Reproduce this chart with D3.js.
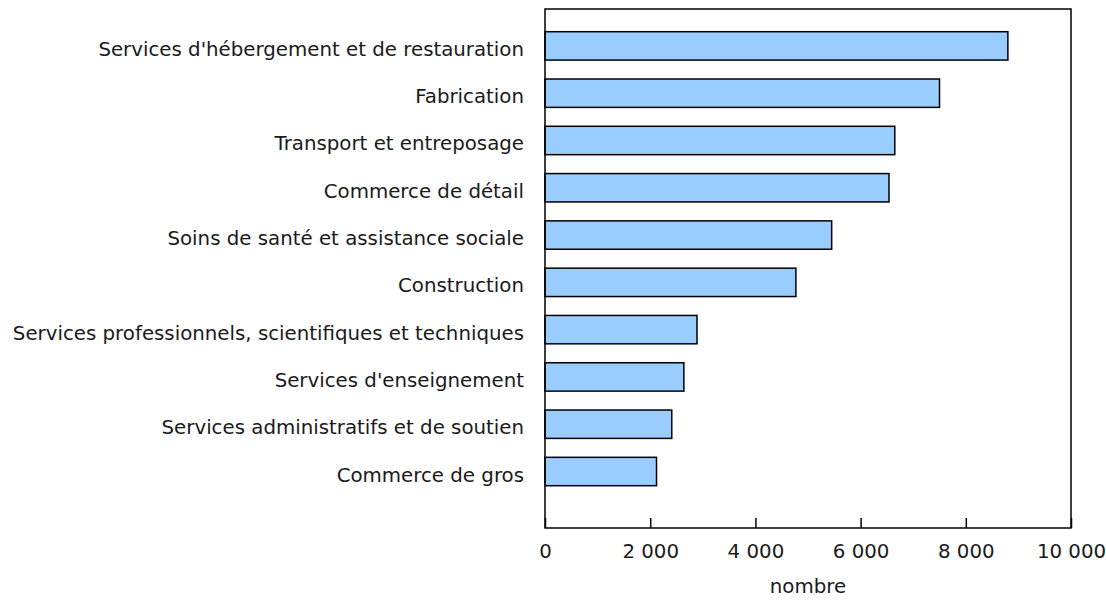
<!DOCTYPE html>
<html>
<head>
<meta charset="utf-8">
<script src="https://cdn.jsdelivr.net/npm/d3@7"></script>
<style>
  html, body { margin: 0; padding: 0; background: #fff; }
  svg text { font-family: "DejaVu Sans", Verdana, sans-serif; fill: #1a1a1a; }
</style>
</head>
<body>
<div id="chart"></div>
<script>
// industries, top to bottom
const categories = [
  "Services d'hébergement et de restauration",
  "Fabrication",
  "Transport et entreposage",
  "Commerce de détail",
  "Soins de santé et assistance sociale",
  "Construction",
  "Services professionnels, scientifiques et techniques",
  "Services d'enseignement",
  "Services administratifs et de soutien",
  "Commerce de gros"
];
const values = [8800, 7500, 6650, 6540, 5450, 4770, 2890, 2640, 2410, 2120];
const xTicks = [0, 2000, 4000, 6000, 8000, 10000];
const xTitle = 'nombre';

(function(){
  const W = 1106, H = 600;
  const plot = {l: 545, r: 1071, t: 9, b: 528};
  const fs = 19.8;

  const svg = d3.select('#chart').append('svg')
    .attr('width', W).attr('height', H);

  const x = d3.scaleLinear().domain([0, 10000]).range([plot.l, plot.r]);
  const y = d3.scaleBand().domain(categories)
    .range([22.25, 495.15]).paddingInner(0.4).paddingOuter(0.2);

  // bars
  svg.append('g').selectAll('rect')
    .data(categories)
    .join('rect')
    .attr('x', x(0))
    .attr('y', d => y(d))
    .attr('width', (d, i) => x(values[i]) - x(0))
    .attr('height', y.bandwidth())
    .attr('fill', '#99ccff')
    .attr('stroke', '#000')
    .attr('stroke-width', 1.5);

  // frame
  svg.append('rect')
    .attr('x', plot.l).attr('y', plot.t)
    .attr('width', plot.r - plot.l).attr('height', plot.b - plot.t)
    .attr('fill', 'none').attr('stroke', '#000').attr('stroke-width', 1.5);

  // x axis: inside ticks, labels below
  const xAxis = d3.axisBottom(x).tickValues(xTicks)
    .tickSizeInner(-10).tickSizeOuter(0)
    .tickFormat(d => d3.format(',')(d).replace(/,/g, ' '));
  const gx = svg.append('g').attr('transform', `translate(0,${plot.b})`).call(xAxis);
  gx.select('.domain').remove();
  gx.selectAll('.tick line').attr('stroke', '#000').attr('stroke-width', 1.5);
  gx.selectAll('.tick text').attr('font-size', fs).attr('y', 30).attr('dy', 0);

  // category labels
  svg.append('g').selectAll('text')
    .data(categories)
    .join('text')
    .attr('x', 524)
    .attr('y', d => y(d) + y.bandwidth() / 2 + 10)
    .attr('text-anchor', 'end')
    .attr('font-size', fs)
    .text(d => d);

  // axis title
  svg.append('text')
    .attr('x', (plot.l + plot.r) / 2)
    .attr('y', 593)
    .attr('text-anchor', 'middle')
    .attr('font-size', fs)
    .text(xTitle);
})();
</script>
</body>
</html>
